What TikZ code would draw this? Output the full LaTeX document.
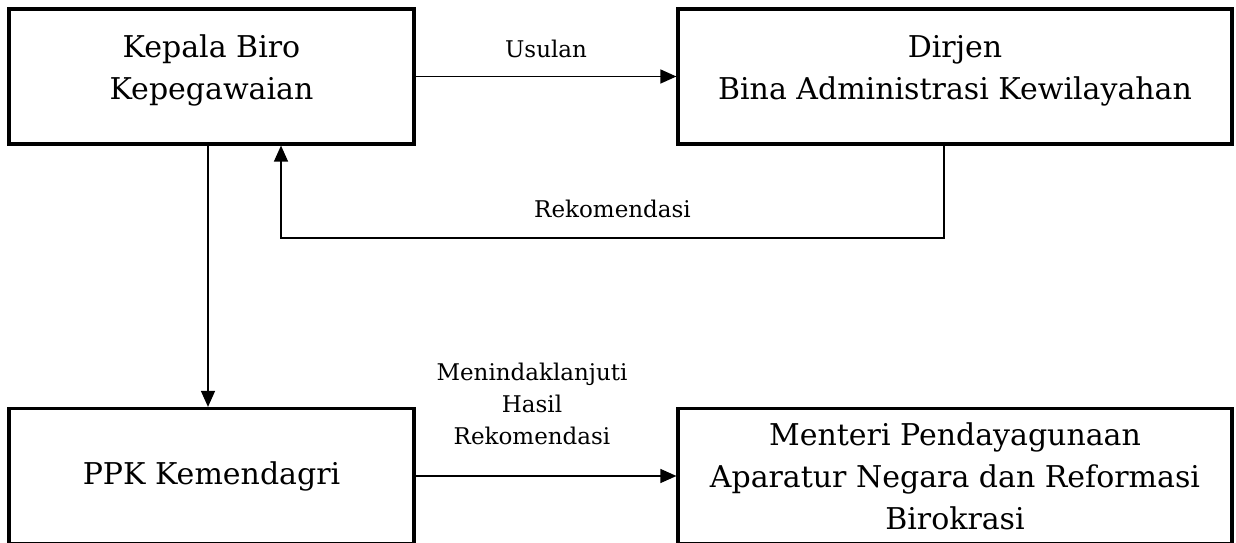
\documentclass[tikz,border=0pt]{standalone}
\usepackage{fontspec}
\setmainfont{DejaVu Serif}
\usetikzlibrary{arrows.meta,positioning}
\tikzset{
  unitbox/.style={draw, line width=3.2pt, minimum width=405pt, minimum height=135pt,
    inner sep=0pt, align=center, font=\fontsize{30}{42}\selectfont},
  widebox/.style={unitbox, minimum width=554pt},
  boxtext/.style={inner sep=0pt, align=center, font=\fontsize{30}{42}\selectfont, yshift=6pt},
  flow/.style={line width=1.4pt, -{Triangle[length=16pt,width=14pt]}},
  flowlbl/.style={inner sep=2pt, align=center, font=\fontsize{23}{32}\selectfont},
}
\begin{document}
\begin{tikzpicture}[x=1pt,y=1pt]
\useasboundingbox (0,0) rectangle (1236,543);

%Shape: Rectangle [top row]
\node[unitbox, label={[boxtext]center:Kepala Biro\\Kepegawaian}] (kepala) at (211.5,466.5) {};
\node[widebox, label={[boxtext]center:Dirjen\\Bina Administrasi Kewilayahan}] (dirjen) at (955,466.5) {};
%Shape: Rectangle [bottom row]
\node[unitbox] (ppk) at (211.5,67) {PPK Kemendagri};
\node[widebox] (menpan) at (955,67) {Menteri Pendayagunaan\\Aparatur Negara dan Reformasi\\Birokrasi};

%Straight Lines [Usulan]
\draw[flow] (kepala.east) -- node[flowlbl, above=15.5pt] (lusulan) {Usulan} (dirjen.west);
%Straight Lines [Rekomendasi]
\coordinate (rekin) at ([xshift=69.5pt]kepala.south);
\coordinate (rekout) at ([xshift=-11pt]dirjen.south);
\coordinate (rekbend) at (rekin |- 0,305);
\draw[flow] (rekout) |- node[flowlbl, above=17pt, pos=0.75] (lrekom) {Rekomendasi} (rekbend) -- (rekin);
%Straight Lines [ke PPK]
\draw[flow] ([xshift=-3.5pt]kepala.south) -- ([xshift=-3.5pt]ppk.north);
%Straight Lines [Tindak lanjut]
\draw[flow] (ppk.east) -- node[flowlbl, above=28pt, xshift=-14pt] (ltindak) {Menindaklanjuti\\Hasil\\Rekomendasi} (menpan.west);

\end{tikzpicture}
\end{document}
